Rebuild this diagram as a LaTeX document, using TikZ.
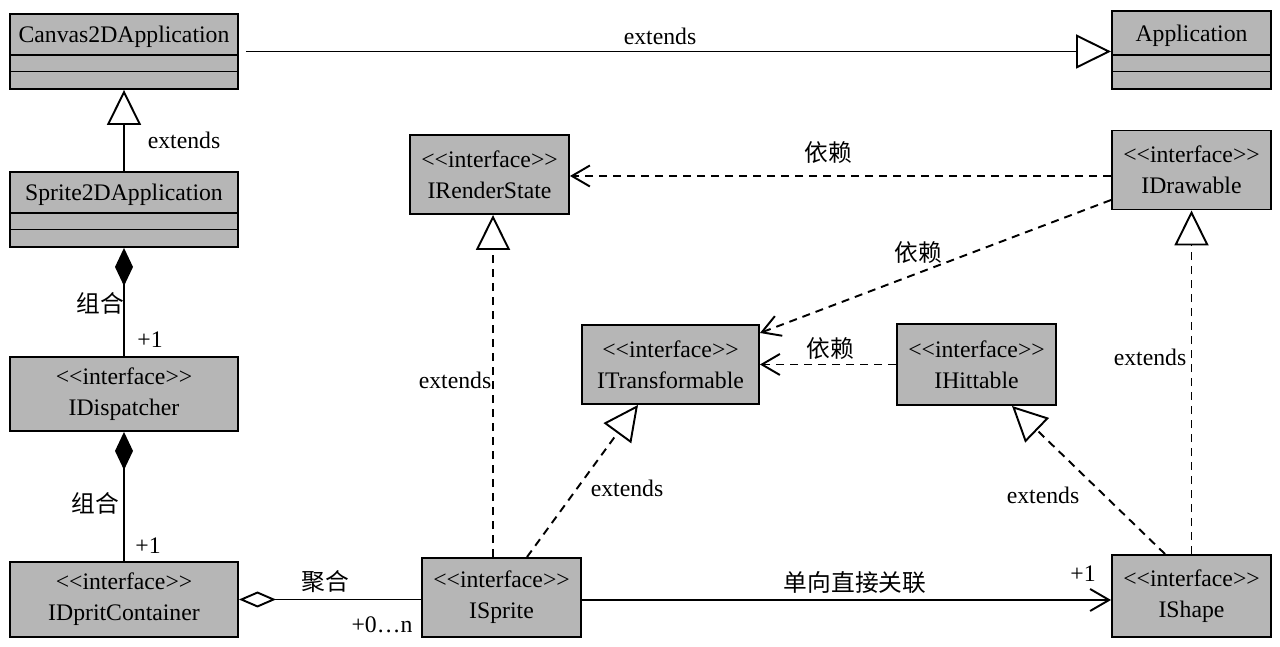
\documentclass[tikz,border=0pt]{standalone}
\usepackage{fontspec}
\setmainfont{Liberation Serif}
\newfontfamily\cjk{Noto Sans CJK SC}
\usepackage{xcolor}
\usetikzlibrary{arrows.meta}
\definecolor{boxgray}{RGB}{182,182,182}

\begin{document}
\begin{tikzpicture}[
    font=\fontsize{13.5}{17.5}\selectfont,
    line width=1.1pt,
    classbox/.style={rectangle, draw, fill=boxgray, minimum width=4.56cm, minimum height=1.5cm,
      inner sep=0pt, text height=0.58cm, text depth=0.92cm,
      path picture={
        \draw[line width=1.1pt] ([yshift=0.68cm]path picture bounding box.south west) -- ([yshift=0.68cm]path picture bounding box.south east);
        \draw[line width=1.1pt] ([yshift=0.35cm]path picture bounding box.south west) -- ([yshift=0.35cm]path picture bounding box.south east);
      }},
    ifacebox/.style={rectangle, draw, fill=boxgray, minimum width=3.18cm, minimum height=1.58cm, align=center},
    dashpat/.style={dash pattern=on 0.16cm off 0.12cm},
    inherit/.style={-{Triangle[open, length=0.7cm, width=0.68cm]}},
    realize/.style={dashpat, -{Triangle[open, length=0.7cm, width=0.68cm]}},
    depend/.style={dashpat, -{Straight Barb[length=0.36cm, width=0.42cm]}},
    assoc/.style={-{Straight Barb[length=0.38cm, width=0.44cm]}},
    compose/.style={{Diamond[length=0.76cm, width=0.36cm]}-},
    aggregate/.style={{Diamond[open, length=0.74cm, width=0.32cm]}-},
    lbl/.style={inner sep=1pt}
  ]
  \useasboundingbox (0,0) rectangle (25.6,12.94);

  % Define classes
  \node[classbox] (canvas) at (2.48,11.91) {Canvas2DApplication};
  \node[classbox, minimum width=3.18cm, minimum height=1.56cm] (application) at (23.83,11.94) {Application};
  \node[classbox] (sprite2d) at (2.48,8.75) {Sprite2DApplication};

  % Define interfaces
  \node[ifacebox, minimum width=4.56cm, minimum height=1.48cm] (dispatcher) at (2.48,5.06) {<{}<interface>{}>\\IDispatcher};
  \node[ifacebox, minimum width=4.56cm, minimum height=1.5cm] (spritcontainer) at (2.48,0.95) {<{}<interface>{}>\\IDpritContainer};
  \node[ifacebox] (isprite) at (10.03,0.99) {<{}<interface>{}>\\ISprite};
  \node[ifacebox, minimum height=1.64cm] (ishape) at (23.83,1.02) {<{}<interface>{}>\\IShape};
  \node[ifacebox] (irenderstate) at (9.79,9.45) {<{}<interface>{}>\\IRenderState};
  \node[ifacebox] (idrawable) at (23.83,9.54) {<{}<interface>{}>\\IDrawable};
  \node[ifacebox, minimum width=3.54cm] (itransformable) at (13.41,5.65) {<{}<interface>{}>\\ITransformable};
  \node[ifacebox, minimum height=1.62cm] (ihittable) at (19.53,5.65) {<{}<interface>{}>\\IHittable};

  % Draw class relations
  \draw[inherit, shorten <=4pt] (canvas.east) -- (canvas.east -| application.west);
  \draw[inherit] (sprite2d.north) -- (canvas.south);
  \draw[compose] (sprite2d.south) -- (dispatcher.north);
  \draw[compose] (dispatcher.south) -- (spritcontainer.north);
  \draw[aggregate] (spritcontainer.east) -- (spritcontainer.east -| isprite.west);
  \draw[assoc] ([yshift=-0.05cm]isprite.east) -- ([yshift=-0.05cm]isprite.east -| ishape.west);

  % Draw interface inheritance
  \draw[realize] ([xshift=-0.17cm]isprite.north) -- ([xshift=-0.17cm]isprite.north |- irenderstate.south);
  \draw[realize] ([xshift=0.51cm]isprite.north) -- ([xshift=-0.65cm]itransformable.south);
  \draw[realize] ([xshift=-0.53cm]ishape.north) -- ([xshift=0.71cm]ihittable.south);
  \draw[realize] (ishape.north) -- (idrawable.south);

  % Draw dependencies
  \draw[depend] ([yshift=-0.12cm]idrawable.west) -- ([yshift=-0.12cm]idrawable.west -| irenderstate.east);
  \draw[depend] ([yshift=-0.6cm]idrawable.west) -- ([yshift=0.63cm]itransformable.east);
  \draw[depend] (ihittable.west) -- (itransformable.east);

  % Labels
  \node[lbl] (extA) at (13.2,12.22) {extends};
  \node[lbl] (extB) at (3.68,10.14) {extends};
  \node[lbl] (compA) at (2.0,6.88) {\cjk 组合};
  \node[lbl] (multA) at (3.0,6.14) {+1};
  \node[lbl] (compB) at (1.9,2.88) {\cjk 组合};
  \node[lbl] (multB) at (2.96,2.02) {+1};
  \node[lbl] (aggr) at (6.5,1.3) {\cjk 聚合};
  \node[lbl] (multC) at (7.64,0.44) {+0…n};
  \node[lbl] (assocl) at (17.1,1.28) {\cjk 单向直接关联};
  \node[lbl] (multD) at (21.66,1.46) {+1};
  \node[lbl] (extC) at (9.1,5.34) {extends};
  \node[lbl] (extD) at (12.54,3.18) {extends};
  \node[lbl] (depA) at (16.56,9.88) {\cjk 依赖};
  \node[lbl] (depB) at (18.36,7.88) {\cjk 依赖};
  \node[lbl] (depC) at (16.6,5.96) {\cjk 依赖};
  \node[lbl] (extE) at (20.86,3.04) {extends};
  \node[lbl] (extF) at (23.0,5.8) {extends};
\end{tikzpicture}
\end{document}
